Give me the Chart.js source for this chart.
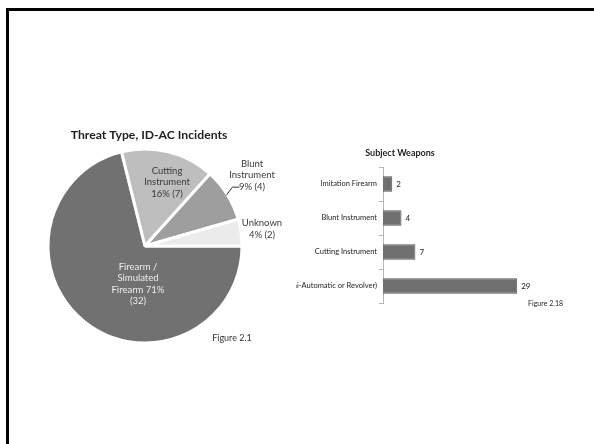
<!DOCTYPE html>
<html>
<head>
<meta charset="utf-8">
<script src="https://cdn.jsdelivr.net/npm/chart.js@4.4.1/dist/chart.umd.min.js"></script>
<style>
  html, body { margin: 0; padding: 0; background: #fff; }
  body { width: 594px; height: 444px; position: relative; overflow: hidden; }
  .frame {
    position: absolute; left: 6px; top: 8px; width: 600px; height: 450px;
    border-top: 3px solid #000; border-left: 3px solid #000;
  }
  #pieChart { position: absolute; left: 40px; top: 120px; }
  #barChart { position: absolute; left: 296px; top: 140px; }
</style>
</head>
<body>
<div class="frame"></div>
<canvas id="pieChart" width="250" height="240"></canvas>
<canvas id="barChart" width="274" height="175"></canvas>
<script>
// Threat type counts (pie)
const threatTypes = ['Firearm / Simulated Firearm', 'Cutting Instrument', 'Blunt Instrument', 'Unknown'];
const threatCounts = [32, 7, 4, 2];
const threatColors = ['#717171', '#bebebe', '#9e9e9e', '#ebebeb'];

// Subject weapons counts (bar)
const weaponTypes = ['Imitation Firearm', 'Blunt Instrument', 'Cutting Instrument', 'Firearm (Semi-Automatic or Revolver)'];
const weaponCounts = [2, 4, 7, 29];

const FONT = 'Lato, "Liberation Sans", sans-serif';

// label text lines for each slice, built from the counts
const sliceLabelLines = (index) => {
  const total = threatCounts.reduce((a, b) => a + b, 0);
  const value = threatCounts[index];
  const pct = Math.round(value / total * 100) + '%';
  if (index === 0) return ['Firearm /', 'Simulated', `Firearm ${pct}`, `(${value})`];
  if (index === 1) return ['Cutting', 'Instrument', `${pct} (${value})`];
  if (index === 2) return ['Blunt', 'Instrument', `${pct} (${value})`];
  return ['Unknown', `${pct} (${value})`];
};

// where each label block sits, relative to the pie centre
const sliceLabelPlace = [
  { dx: -7, dy: 38, color: '#ececec' },
  { dx: 22, dy: -64, color: '#3a3a3a' },
  { dx: 107, dy: -71, color: '#3a3a3a', leader: true },
  { dx: 117, dy: -17, color: '#3a3a3a' },
];

const pieText = {
  id: 'pieText',
  afterDatasetsDraw(chart) {
    const { ctx } = chart;
    const arcs = chart.getDatasetMeta(0).data;
    const cx = arcs[0].x;
    const cy = arcs[0].y;
    const r = arcs[0].outerRadius;
    ctx.save();
    ctx.textAlign = 'center';
    ctx.textBaseline = 'middle';

    ctx.fillStyle = '#222';
    ctx.font = `bold 12.2px ${FONT}`;
    ctx.fillText('Threat Type, ID-AC Incidents', cx + 4, cy - 111);

    ctx.fillStyle = '#333';
    ctx.font = `9px ${FONT}`;
    ctx.fillText('Figure 2.1', cx + 87, cy + 92);

    ctx.font = `9.5px ${FONT}`;
    arcs.forEach((arc, i) => {
      const place = sliceLabelPlace[i];
      const lines = sliceLabelLines(i);
      const lh = 11.5;
      const top = cy + place.dy - (lines.length - 1) * lh / 2;
      ctx.fillStyle = place.color;
      lines.forEach((line, j) => ctx.fillText(line, cx + place.dx, top + j * lh));
      if (place.leader) {
        const mid = (arc.startAngle + arc.endAngle) / 2;
        const ex = cx + Math.cos(mid) * (r - 1);
        const ey = cy + Math.sin(mid) * (r - 1);
        ctx.strokeStyle = '#333';
        ctx.lineWidth = 1;
        ctx.beginPath();
        ctx.moveTo(ex, ey);
        ctx.lineTo(ex + 6, ey - 8);
        ctx.lineTo(ex + 13, ey - 8);
        ctx.stroke();
      }
    });
    ctx.restore();
  }
};

const pieChart = new Chart(document.getElementById('pieChart').getContext('2d'), {
  type: 'pie',
  data: {
    labels: threatTypes,
    datasets: [{
      data: threatCounts,
      backgroundColor: threatColors,
      borderColor: '#ffffff',
      borderWidth: 3,
      radius: 97,
    }]
  },
  options: {
    responsive: false,
    animation: false,
    rotation: 90,
    layout: { padding: { left: 0, right: 40, top: 12, bottom: 0 } },
    plugins: {
      legend: { display: false },
      tooltip: { enabled: false },
    }
  },
  plugins: [pieText]
});

const barText = {
  id: 'barText',
  afterDatasetsDraw(chart) {
    const { ctx, chartArea } = chart;
    const meta = chart.getDatasetMeta(0);
    ctx.save();
    ctx.fillStyle = '#222';
    ctx.textBaseline = 'middle';
    ctx.textAlign = 'center';
    ctx.font = `bold 9px ${FONT}`;
    ctx.fillText('Subject Weapons', chartArea.left + 17, chartArea.top - 14);

    ctx.textAlign = 'left';
    ctx.font = `8px ${FONT}`;
    meta.data.forEach((bar, i) => {
      ctx.fillText(String(weaponCounts[i]), bar.x + 4, bar.y);
    });

    ctx.textAlign = 'right';
    ctx.font = `7px ${FONT}`;
    ctx.fillText('Figure 2.18', chartArea.right + 18, chartArea.bottom + 1);
    ctx.restore();
  }
};

const barChart = new Chart(document.getElementById('barChart').getContext('2d'), {
  type: 'bar',
  data: {
    labels: weaponTypes,
    datasets: [{
      data: weaponCounts,
      backgroundColor: '#6f6f6f',
      borderColor: '#585858',
      borderWidth: 1,
      barPercentage: 0.45,
      categoryPercentage: 1,
    }]
  },
  options: {
    indexAxis: 'y',
    responsive: false,
    animation: false,
    layout: { padding: { left: 0, right: 25, top: 27, bottom: 12 } },
    plugins: {
      legend: { display: false },
      tooltip: { enabled: false },
    },
    scales: {
      x: {
        display: false,
        min: 0,
        max: 35,
      },
      y: {
        afterFit: (scale) => { scale.width = 87; },
        grid: {
          drawOnChartArea: false,
          drawTicks: true,
          tickLength: 4,
          color: '#b5b5b5',
        },
        border: { display: true, color: '#b5b5b5' },
        ticks: {
          color: '#222',
          padding: 2,
          font: { family: FONT, size: 7.5 },
        }
      }
    }
  },
  plugins: [barText]
});
</script>
</body>
</html>
